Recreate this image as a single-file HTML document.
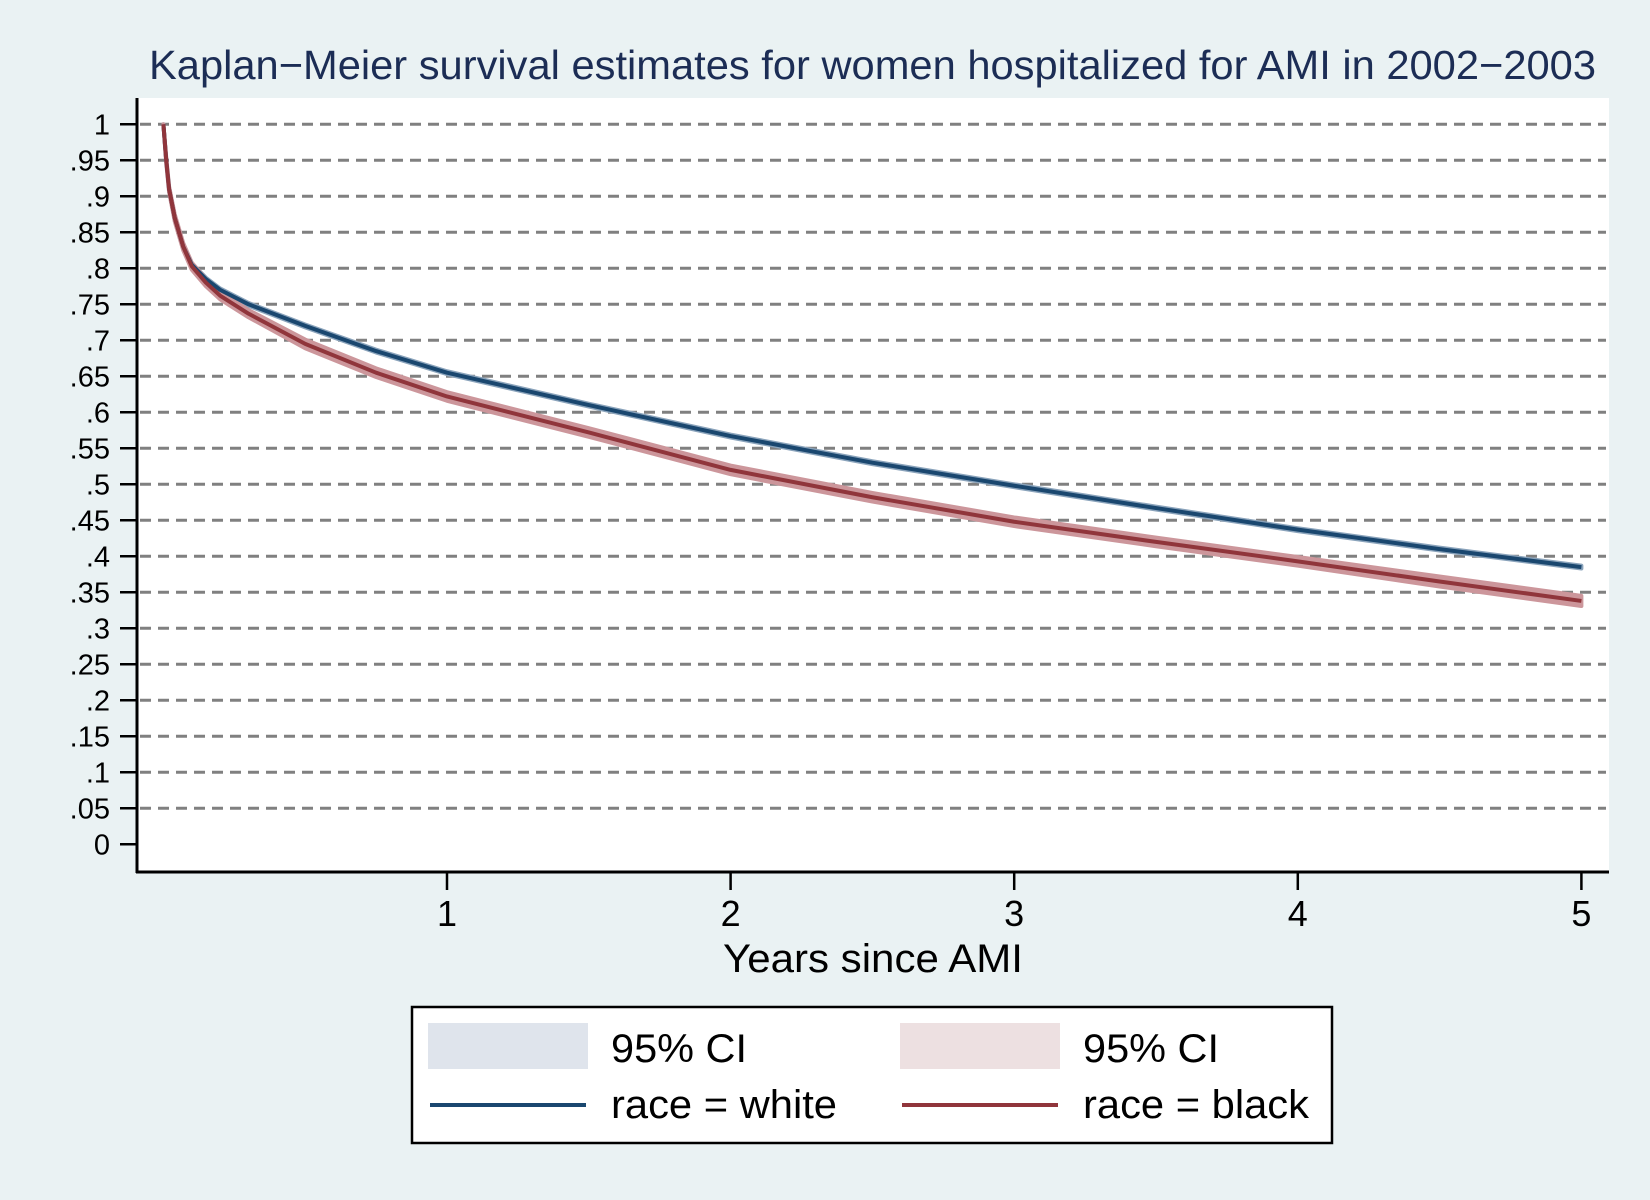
<!DOCTYPE html>
<html><head><meta charset="utf-8"><style>
html,body{margin:0;padding:0;background:#eaf2f3;}
svg{display:block;font-family:"Liberation Sans",Arial,sans-serif;}
</style></head><body>
<svg id="chart" width="1650" height="1200" viewBox="0 0 1650 1200" xmlns="http://www.w3.org/2000/svg">
<rect x="0" y="0" width="1650" height="1200" fill="#eaf2f3"/>
<text x="149" y="79" font-size="41" fill="#1c2d55" textLength="1447" lengthAdjust="spacingAndGlyphs">Kaplan−Meier survival estimates for women hospitalized for AMI in 2002−2003</text>
<rect x="137" y="98" width="1472" height="774" fill="#fff"/>
<g id="grid"></g>
<g id="series"></g>
<g id="axes"></g>
<text x="873" y="972" font-size="40" text-anchor="middle" fill="#000" textLength="300" lengthAdjust="spacingAndGlyphs">Years since AMI</text>
<g>
<rect x="412" y="1007" width="920" height="136" fill="#fff" stroke="#000" stroke-width="2.5"/>
<rect x="428" y="1023" width="160" height="46" fill="#dfe4ec"/>
<text x="611" y="1062" font-size="40" textLength="136" lengthAdjust="spacingAndGlyphs">95% CI</text>
<rect x="900" y="1023" width="160" height="46" fill="#ede0e1"/>
<text x="1083" y="1062" font-size="40" textLength="136" lengthAdjust="spacingAndGlyphs">95% CI</text>
<line x1="430" y1="1105" x2="586" y2="1105" stroke="#1a476f" stroke-width="4"/>
<text x="611" y="1118" font-size="40" textLength="226" lengthAdjust="spacingAndGlyphs">race = white</text>
<line x1="902" y1="1105" x2="1058" y2="1105" stroke="#90353b" stroke-width="4"/>
<text x="1083" y="1118" font-size="40" textLength="226" lengthAdjust="spacingAndGlyphs">race = black</text>
</g>
</svg>
<script>
const yTicks=[0,.05,.1,.15,.2,.25,.3,.35,.4,.45,.5,.55,.6,.65,.7,.75,.8,.85,.9,.95,1];
const yTickLabels=["0",".05",".1",".15",".2",".25",".3",".35",".4",".45",".5",".55",".6",".65",".7",".75",".8",".85",".9",".95","1"];
const xTicks=[1,2,3,4,5];
const xTickLabels=["1","2","3","4","5"];
const times=[0,0.01,0.02,0.04,0.07,0.1,0.15,0.2,0.3,0.5,0.75,1,1.5,2,2.5,3,3.5,4,4.5,5];
const whiteSurv=[1,0.95,0.91,0.87,0.83,0.805,0.785,0.77,0.75,0.72,0.685,0.655,0.61,0.567,0.53,0.498,0.467,0.437,0.41,0.385];
const blackSurv=[1,0.95,0.91,0.87,0.83,0.803,0.78,0.762,0.737,0.695,0.655,0.622,0.572,0.52,0.482,0.448,0.42,0.393,0.365,0.338];
const whiteCI=[0,0.002,0.002,0.002,0.002,0.002,0.002,0.002,0.002,0.002,0.002,0.002,0.002,0.002,0.002,0.002,0.002,0.002,0.002,0.002];
const blackCI=[0,0.004,0.004,0.005,0.005,0.005,0.005,0.005,0.005,0.006,0.006,0.006,0.006,0.006,0.006,0.006,0.006,0.006,0.007,0.007];
const NS="http://www.w3.org/2000/svg";
const X=t=>163.4+t*283.6;
const Y=v=>844.3-v*720;
function mk(tag,attrs,parent){const e=document.createElementNS(NS,tag);for(const k in attrs)e.setAttribute(k,attrs[k]);parent.appendChild(e);return e;}
const grid=document.getElementById('grid'),axes=document.getElementById('axes'),series=document.getElementById('series');
yTicks.forEach((v,i)=>{
  if(v>0){const g=mk('line',{x1:140,x2:1606,y1:Y(v),y2:Y(v),stroke:'#808080','stroke-width':3,'stroke-dasharray':'11 7'},grid);
  
  }
  const tk=mk('line',{x1:120,x2:137,y1:Y(v),y2:Y(v),stroke:'#000','stroke-width':2.5},axes);
  
  
  const tl=mk('text',{x:110,y:Y(v)+10,'font-size':29,'text-anchor':'end'},axes);
  tl.textContent=yTickLabels[i];
  
  
});
xTicks.forEach((t,i)=>{
  const tk=mk('line',{x1:X(t),x2:X(t),y1:872,y2:890,stroke:'#000','stroke-width':2.5},axes);
  
  
  const tl=mk('text',{x:X(t),y:926,'font-size':36,'text-anchor':'middle'},axes);
  tl.textContent=xTickLabels[i];
  
  
});
const ya=mk('line',{x1:137,x2:137,y1:98,y2:873,stroke:'#000','stroke-width':3},axes);


const xa=mk('line',{x1:136,x2:1609,y1:872,y2:872,stroke:'#000','stroke-width':3},axes);


function band(s,ci,fill,name){
  let up=times.map((t,i)=>X(t)+','+Y(s[i]+ci[i])),lo=times.map((t,i)=>X(t)+','+Y(s[i]-ci[i])).reverse();
  const p=mk('polygon',{points:up.concat(lo).join(' '),fill:fill,stroke:fill,'stroke-width':4,'stroke-linejoin':'round'},series);
  
  
}
function line(s,col,name){
  const p=mk('polyline',{points:times.map((t,i)=>X(t)+','+Y(s[i])).join(' '),fill:'none',stroke:col,'stroke-width':4,'stroke-linejoin':'round'},series);
  
  
}
band(whiteSurv,whiteCI,'#8aa3bb','ci-band-white');
band(blackSurv,blackCI,'#cc969b','ci-band-black');
line(whiteSurv,'#1a476f','survival-line-white');
line(blackSurv,'#90353b','survival-line-black');
</script>
</body></html>
